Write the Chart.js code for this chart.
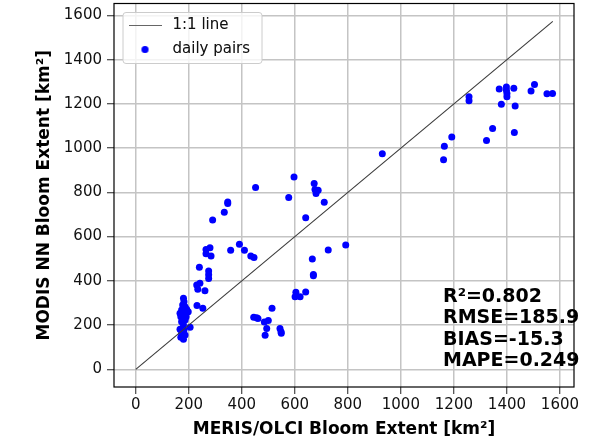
<!DOCTYPE html>
<html><head><meta charset="utf-8">
<script src="https://cdn.jsdelivr.net/npm/chart.js@4.4.0/dist/chart.umd.min.js"></script>
<style>html,body{margin:0;padding:0;background:#fff}#wrap{width:596px;height:446px}</style>
</head><body><div id="wrap"><canvas id="c" width="596" height="446"></canvas></div>
<script>
const merisExtent = [180,182,177,186,173,192,167,182,198,170,190,173,186,180,205,167,182,173,186,170,180,
  231,253,230,242,234,261,240,275,275,275,265,280,265,284,290,334,347,347,358,391,410,434,446,452,
  597,577,673,676,688,680,711,641,
  666,670,670,726,792,604,601,620,641,514,445,456,461,485,500,494,488,544,548,549,
  930,1164,1161,1192,1257,1257,1323,1346,1371,1398,1398,1400,1400,1379,1426,1431,1428,1491,1504,1551,1572];
const modisExtent = [321,306,291,283,268,271,253,253,260,238,238,215,223,200,190,181,178,163,155,145,136,
  288,276,381,389,362,355,461,444,428,411,542,550,523,512,675,710,757,750,538,565,538,512,506,822,
  870,777,840,813,810,795,755,685,
  499,429,423,539,562,348,328,328,349,276,235,233,230,214,221,185,154,185,170,163,
  975,1009,947,1050,1232,1214,1035,1089,1267,1276,1262,1247,1232,1199,1271,1190,1071,1258,1288,1246,1247];
const oneToOneEnds = [0, 1573];
const tickValues = [0,200,400,600,800,1000,1200,1400,1600];
const xTitle = 'MERIS/OLCI Bloom Extent [km²]';
const yTitle = 'MODIS NN Bloom Extent [km²]';
const legendLabels = ['1:1 line', 'daily pairs'];
const statsLines = ['R²=0.802', 'RMSE=185.9', 'BIAS=-15.3', 'MAPE=0.249'];

const FAMILY = "'DejaVu Sans', sans-serif";

const lineImg = document.createElement('canvas');
lineImg.width = 33; lineImg.height = 3;
(function(){ const g = lineImg.getContext('2d'); g.fillStyle = '#666'; g.fillRect(0, 1, 33, 1); })();
const dotImg = document.createElement('canvas');
dotImg.width = 9; dotImg.height = 9;
(function(){ const g = dotImg.getContext('2d'); g.fillStyle = '#0000ff'; g.beginPath(); g.arc(4.5, 4.5, 3.5, 0, Math.PI*2); g.fill(); })();

const extras = {
  id: 'extras',
  afterLayout(chart) {
    const lg = chart.legend, ca = chart.chartArea;
    if (lg) {
      const w = lg.right - lg.left, h = lg.bottom - lg.top;
      lg.left = ca.left + 2; lg.top = ca.top + 5.5;
      lg.right = lg.left + w; lg.bottom = lg.top + h;
    }
  },
  afterDraw(chart) {
    const ctx = chart.ctx, ca = chart.chartArea;
    ctx.save();
    ctx.beginPath();
    ctx.roundRect(ca.left + 9, ca.top + 9, 139, 51, 3);
    ctx.fillStyle = 'rgba(255,255,255,0.8)';
    ctx.fill();
    ctx.strokeStyle = '#cccccc';
    ctx.lineWidth = 1;
    ctx.stroke();
    ctx.restore();
    chart.legend.draw();
    ctx.save();
    ctx.strokeStyle = '#000';
    ctx.lineWidth = 1.2;
    ctx.strokeRect(ca.left, ca.top, ca.right - ca.left, ca.bottom - ca.top);
    ctx.restore();
    ctx.save();
    ctx.font = 'bold 19px ' + FAMILY;
    ctx.fillStyle = '#000';
    ctx.textBaseline = 'middle';
    ctx.textAlign = 'left';
    statsLines.forEach((t, i) => ctx.fillText(t, ca.left + 329, ca.bottom - 90 + i * 21.5));
    ctx.restore();
  }
};

const tickFont = { family: FAMILY, size: 15 };
const titleFont = { family: FAMILY, size: 17, weight: 'bold' };
const gridOpts = { color: '#c4c4c4', lineWidth: 1.5, tickLength: 7, tickColor: '#222', tickWidth: 1 };

new Chart(document.getElementById('c'), {
  data: {
    datasets: [
      { type: 'line', label: legendLabels[0], data: oneToOneEnds.map(v => ({x: v, y: v})),
        borderColor: '#3a3a3a', borderWidth: 1.1, pointRadius: 0, fill: false },
      { type: 'scatter', label: legendLabels[1],
        data: merisExtent.map((x, i) => ({x: x, y: modisExtent[i]})),
        backgroundColor: '#0000ff', borderWidth: 0, pointRadius: 3.5, pointHoverRadius: 3.5 }
    ]
  },
  options: {
    responsive: false, animation: false, devicePixelRatio: 1,
    layout: { padding: { top: 3, right: 22, left: 0, bottom: 0 } },
    plugins: {
      tooltip: { enabled: false },
      legend: {
        position: 'chartArea', align: 'start',
        labels: {
          usePointStyle: true, pointStyleWidth: 40, boxHeight: 15, padding: 9,
          font: tickFont, color: '#111',
          generateLabels: (chart) => chart.data.datasets.map((ds, i) => ({
            text: ds.label, pointStyle: i === 0 ? lineImg : dotImg,
            fillStyle: 'transparent', strokeStyle: 'transparent', lineWidth: 0,
            hidden: false, datasetIndex: i, fontColor: '#111'
          }))
        }
      }
    },
    scales: {
      x: {
        type: 'linear', min: -82, max: 1653,
        afterBuildTicks: s => { s.ticks = tickValues.map(v => ({ value: v })); },
        afterFit: s => { s.height = 59; s.paddingLeft = 0; s.paddingRight = 0; },
        grid: gridOpts, border: { display: false },
        ticks: { font: tickFont, color: '#111', padding: 2, maxRotation: 0, autoSkip: false, callback: v => String(v) },
        title: { display: true, text: xTitle, font: titleFont, color: '#000', padding: { top: 10, bottom: 6 } }
      },
      y: {
        type: 'linear', min: -80, max: 1654,
        afterBuildTicks: s => { s.ticks = tickValues.map(v => ({ value: v })); },
        afterFit: s => { s.width = 114; s.paddingTop = 0; s.paddingBottom = 0; },
        grid: gridOpts, border: { display: false },
        ticks: { font: tickFont, color: '#111', padding: 5, autoSkip: false, callback: v => String(v) },
        title: { display: true, text: yTitle, font: titleFont, color: '#000', padding: { top: 34, bottom: 0 } }
      }
    }
  },
  plugins: [extras]
});
</script>
</body></html>
